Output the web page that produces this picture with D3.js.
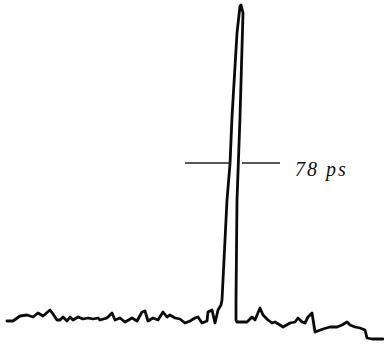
<!DOCTYPE html>
<html>
<head>
<meta charset="utf-8">
<script src="https://cdn.jsdelivr.net/npm/d3@7"></script>
<style>
  html, body { margin: 0; padding: 0; background: #fff; }
  #chart { width: 384px; height: 345px; }
</style>
</head>
<body>
<div id="chart"></div>
<script>
// delay (ps) and signal (arbitrary units)
const delay = [
  -2330, -2270, -2200, -2130, -2070, -2020, -1970, -1900, -1870, -1830,
  -1800, -1770, -1730, -1700, -1670, -1620, -1570, -1520, -1470, -1420,
  -1400, -1330, -1280, -1250, -1200, -1150, -1080, -1030, -980, -950,
  -920, -870, -820, -770, -730, -700, -650, -600, -550, -500,
  -450, -420, -380, -330, -320, -280, -250, -220, -190, -180,
  -130, -100, -80, -30, 0, 10,
  30, 0, -30, -40, -40, -30, 70, 120, 150, 200,
  230, 280, 320, 350, 400, 430, 500, 550, 580, 620,
  650, 680, 720, 750, 830, 900, 970, 1020, 1070, 1100,
  1150, 1200, 1250, 1270, 1320, 1430
];
const signal = [
  -1, -1, 4, 5, 3, 7, 4, 10, 6, 0,
  0, 3, -1, 3, 0, 3, 1, 2, 1, 2,
  0, 2, 7, 0, 2, -2, 2, -1, 8, 9,
  -1, 2, 0, 8, 3, 5, 2, 1, -3, -1,
  2, 3, -3, -1, 8, 10, -3, 10, 15, 20,
  120, 156, 203, 287, 314, 315,
  307, 203, 120, 20, 0, -2, -2, 3, 0, 12,
  5, 0, -3, -2, -5, -7, -3, -2, 2, -2,
  -3, 3, 7, -12, -9, -7, -7, -5, -2, -5,
  -7, -8, -10, -18, -19, -19
];

// half-maximum marker
const halfLevel = 157;
const markerLeft = [-550, -90];
const markerRight = [20, 400];
const widthLabel = '78 ps';
const labelPos = [550, 144];

const W = 384, H = 345;

const x = d3.scaleLinear().domain([-2400, 1440]).range([0, W]);
const y = d3.scaleLinear().domain([-25, 320]).range([H, 0]);

const svg = d3.select('#chart')
  .append('svg')
  .attr('width', W)
  .attr('height', H);

const points = delay.map((d, i) => [d, signal[i]]);

const line = d3.line()
  .x(d => x(d[0]))
  .y(d => y(d[1]));

svg.append('path')
  .datum(points)
  .attr('d', line)
  .style('fill', 'none')
  .style('stroke', '#0a0a0a')
  .style('stroke-width', 2.8)
  .style('stroke-linejoin', 'round')
  .style('stroke-linecap', 'round');

[markerLeft, markerRight].forEach(m => {
  svg.append('line')
    .attr('x1', x(m[0]))
    .attr('x2', x(m[1]))
    .attr('y1', y(halfLevel))
    .attr('y2', y(halfLevel))
    .style('stroke', '#222')
    .style('stroke-width', 1.4);
});

svg.append('text')
  .attr('x', x(labelPos[0]))
  .attr('y', y(labelPos[1]))
  .style('font-family', '"Liberation Serif", "DejaVu Serif", serif')
  .style('font-style', 'italic')
  .style('font-size', '20px')
  .style('letter-spacing', '2px')
  .style('fill', '#111')
  .text(widthLabel);
</script>
</body>
</html>
